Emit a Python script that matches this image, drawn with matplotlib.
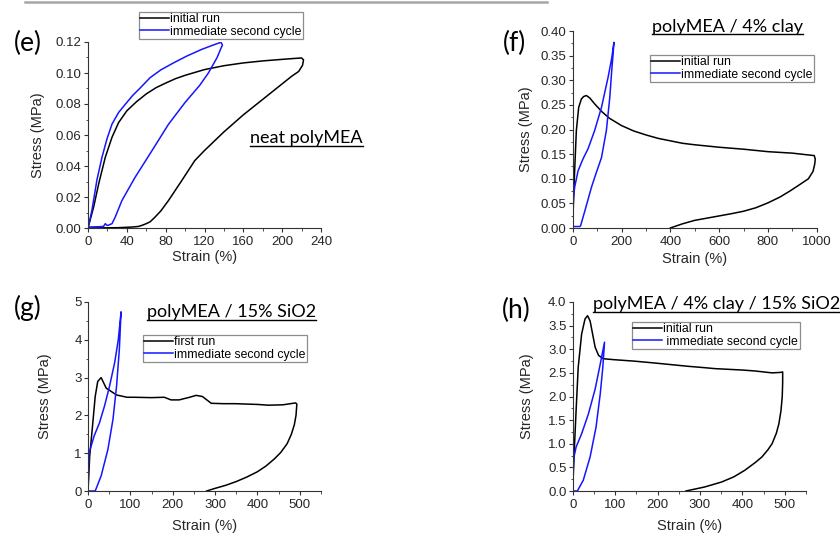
import matplotlib
matplotlib.use("Agg")
import matplotlib.pyplot as plt
from matplotlib.lines import Line2D
from matplotlib.ticker import MultipleLocator, FormatStrFormatter

plt.rcParams['font.family'] = ['Liberation Sans', 'DejaVu Sans']

# (e) neat polyMEA
e_first_strain = [0, 5.8, 11, 17.8, 24.7, 31.5, 40, 50, 60, 70, 80, 90, 100, 120, 140, 160, 180, 200,
                  215, 220, 222, 221, 217, 210, 200, 180, 160, 140, 120, 110, 97, 83, 75, 69, 64, 60,
                  56, 52, 45, 31, 15, 0]
e_first_stress = [0, 0.0135, 0.0285, 0.0456, 0.0585, 0.068, 0.0756, 0.0815, 0.0865, 0.0905, 0.0935,
                  0.0963, 0.0985, 0.1022, 0.1047, 0.1065, 0.1078, 0.1088, 0.1095, 0.1097, 0.1085,
                  0.105, 0.101, 0.098, 0.093, 0.083, 0.073, 0.062, 0.050, 0.0435, 0.031, 0.0178,
                  0.011, 0.007, 0.004, 0.0028, 0.0018, 0.001, 0.0006, 0.0002, 0.0001, 0]
e_second_strain = [0, 4, 9.2, 14.4, 19.5, 24.7, 31.5, 38, 46, 54, 64, 75, 88, 102, 117, 130, 137,
                   138.5, 137, 133, 124, 115, 100, 83, 66, 48.6, 35, 28, 24.7, 21, 19.5, 17.8, 16,
                   10, 0]
e_second_stress = [0, 0.0113, 0.031, 0.0456, 0.0574, 0.067, 0.0745, 0.0795, 0.0855, 0.0905, 0.097,
                   0.102, 0.1065, 0.111, 0.1152, 0.1183, 0.1198, 0.118, 0.116, 0.11, 0.1, 0.092,
                   0.081, 0.067, 0.05, 0.0328, 0.0178, 0.007, 0.0028, 0.0018, 0.0017, 0.0028,
                   0.001, 0.0008, 0.0006]

# (f) polyMEA / 4% clay
f_first_strain = [0, 3, 8, 15, 24.6, 35.6, 45, 56, 70, 90, 120, 150, 200, 250, 300, 350, 400, 450,
                  500, 600, 700, 800, 900, 990, 994, 992, 985, 966, 930, 890, 850, 800, 750, 700,
                  650, 600, 500, 450, 400]
f_first_stress = [0, 0.05, 0.117, 0.198, 0.245, 0.262, 0.267, 0.269, 0.264, 0.252, 0.236, 0.223,
                  0.208, 0.197, 0.189, 0.182, 0.177, 0.172, 0.169, 0.164, 0.160, 0.155, 0.152,
                  0.147, 0.14, 0.13, 0.115, 0.1, 0.088, 0.075, 0.063, 0.051, 0.041, 0.034, 0.029,
                  0.0245, 0.0155, 0.0085, 0]
f_second_strain = [0, 1, 3, 8, 22, 42, 63, 90, 118, 145, 160, 169, 165, 160, 152, 138, 118, 95, 77,
                   50, 32, 28, 0]
f_second_stress = [0, 0.03, 0.06, 0.083, 0.116, 0.14, 0.161, 0.198, 0.245, 0.306, 0.345, 0.377,
                   0.35, 0.32, 0.265, 0.198, 0.143, 0.11, 0.083, 0.035, 0.004, 0.003, 0.003]

# (g) polyMEA / 15% SiO2
g_first_strain = [0, 4, 10.6, 17, 23, 31, 43, 67.5, 92, 108, 150, 180, 196, 215, 240, 255, 270, 291,
                  320, 347, 400, 426, 460, 490, 493, 491, 487, 480, 470, 455, 440, 420, 400, 375,
                  350, 325, 300, 280]
g_first_stress = [0, 0.92, 1.71, 2.5, 2.9, 3.0, 2.72, 2.54, 2.48, 2.48, 2.47, 2.48, 2.41, 2.41, 2.48,
                  2.53, 2.5, 2.32, 2.31, 2.31, 2.29, 2.27, 2.28, 2.33, 2.3, 2.0, 1.75, 1.5, 1.25,
                  1.02, 0.85, 0.66, 0.51, 0.37, 0.25, 0.15, 0.07, 0]
g_second_strain = [0, 2.4, 14.6, 27, 39, 51, 63, 71.5, 78, 74, 67.5, 59, 47, 31, 17, 0]
g_second_stress = [0, 1.0, 1.46, 1.8, 2.25, 2.78, 3.4, 4.0, 4.74, 3.75, 2.78, 1.9, 1.1, 0.4, 0, 0]

# (h) polyMEA / 4% clay / 15% SiO2
h_first_strain = [0, 3, 8, 13, 21, 29, 35, 41, 47, 53, 61, 72, 96, 143, 192, 271, 311, 335, 400, 430,
                  470, 490, 495, 495, 494, 491, 486, 480, 470, 460, 446, 430, 406, 380, 351, 311,
                  267]
h_first_stress = [0, 0.72, 1.70, 2.62, 3.32, 3.64, 3.71, 3.6, 3.32, 3.04, 2.87, 2.80, 2.78, 2.75, 2.71,
                  2.64, 2.61, 2.59, 2.56, 2.54, 2.5, 2.51, 2.52, 2.3, 2.0, 1.7, 1.42, 1.22, 1.0,
                  0.87, 0.72, 0.6, 0.44, 0.3, 0.19, 0.085, 0]
h_second_strain = [0, 1, 3, 8, 21, 37, 53, 65, 75, 71, 65, 55, 41, 25, 11, 0]
h_second_stress = [0, 0.4, 0.72, 0.93, 1.21, 1.63, 2.16, 2.69, 3.15, 2.62, 2.06, 1.35, 0.72, 0.23, 0, 0]

W, H = 840, 533
fig = plt.figure(figsize=(8.4, 5.33), dpi=100)

axis_col = '#333333'
blue = '#1515ff'


def px_axes(x0, y0, x1, y1):
    # rectangle given in picture pixels (top-left origin)
    return fig.add_axes([x0 / W, 1 - y1 / H, (x1 - x0) / W, (y1 - y0) / H])


def style(ax, xlim, xmaj, xmin, ylim, ymaj, ymin, yfmt, xlab_y, ylab_x):
    ax.set_xlim(*xlim)
    ax.set_ylim(*ylim)
    ax.xaxis.set_major_locator(MultipleLocator(xmaj))
    ax.xaxis.set_minor_locator(MultipleLocator(xmin))
    ax.yaxis.set_major_locator(MultipleLocator(ymaj))
    ax.yaxis.set_minor_locator(MultipleLocator(ymin))
    ax.yaxis.set_major_formatter(FormatStrFormatter(yfmt))
    for s in ['top', 'right']:
        ax.spines[s].set_visible(False)
    for s in ['left', 'bottom']:
        ax.spines[s].set_color(axis_col)
        ax.spines[s].set_linewidth(0.8)
    ax.tick_params(which='major', direction='out', length=3, width=0.8, colors=axis_col,
                   labelsize=9.5, labelcolor='#262626')
    ax.tick_params(axis='y', which='major', pad=1.5)
    ax.tick_params(axis='x', which='major', pad=2.5)
    ax.tick_params(which='minor', direction='out', length=1.8, width=0.6, colors=axis_col)
    ax.set_xlabel('Strain (%)', fontsize=10.5, color='#262626')
    ax.set_ylabel('Stress (MPa)', fontsize=10.5, color='#262626')
    ax.xaxis.label.set_va('center')
    ax.yaxis.label.set_va('center')
    ax.xaxis.set_label_coords(0.5, xlab_y)
    ax.yaxis.set_label_coords(ylab_x, 0.5)
    ax.patch.set_alpha(0)


def legend(ax, labels, x, y):
    ax.legend(labels, loc='upper left', bbox_to_anchor=(x / W, 1 - y / H),
              bbox_transform=fig.transFigure, borderaxespad=0, fontsize=8.8,
              handlelength=2.3, handletextpad=0.15, labelspacing=0.02, borderpad=0.12,
              fancybox=False, framealpha=1, edgecolor='#8c8c8c')
    ax.get_legend().get_frame().set_linewidth(0.9)


# (e)
ax_e = px_axes(88, 42, 321, 228)
ax_e.plot(e_first_strain, e_first_stress, color='black', lw=1.1)
ax_e.plot(e_second_strain, e_second_stress, color=blue, lw=1.1)
style(ax_e, (0, 240), 40, 20, (0, 0.12), 0.02, 0.01, '%.2f', -0.157, -0.215)
legend(ax_e, ['initial run', 'immediate second cycle'], 139, 12)

# (f)
ax_f = px_axes(572.7, 31, 816.7, 228)
ax_f.plot(f_first_strain, f_first_stress, color='black', lw=1.1)
ax_f.plot(f_second_strain, f_second_stress, color=blue, lw=1.1)
style(ax_f, (0, 1000), 200, 100, (0, 0.40), 0.05, 0.025, '%.2f', -0.157, -0.191)
legend(ax_f, ['initial run', 'immediate second cycle'], 650, 55)

# (g)
ax_g = px_axes(88, 302, 321, 491)
ax_g.plot(g_first_strain, g_first_stress, color='black', lw=1.1)
ax_g.plot(g_second_strain, g_second_stress, color=blue, lw=1.1)
style(ax_g, (0, 550), 100, 50, (0, 5), 1, 0.5, '%d', -0.185, -0.185)
legend(ax_g, ['first run', 'immediate second cycle'], 143, 335)

# (h)
ax_h = px_axes(572.7, 302, 806, 491)
ax_h.plot(h_first_strain, h_first_stress, color='black', lw=1.1)
ax_h.plot(h_second_strain, h_second_stress, color=blue, lw=1.1)
style(ax_h, (0, 550), 100, 50, (0, 4), 0.5, 0.25, '%.1f', -0.185, -0.196)
legend(ax_h, ['initial run', ' immediate second cycle'], 632, 322)

# panel letters
for lab, (px, py) in {'(e)': (27.5, 43), '(f)': (514.5, 43), '(g)': (27.5, 308), '(h)': (516, 310)}.items():
    fig.text(px / W, 1 - py / H, lab, fontsize=19, family=['Lato', 'DejaVu Sans'],
             ha='center', va='center', color='black')

# underlined sample names
titles = [('neat polyMEA', 250, 143, 146), ('polyMEA / 4% clay', 652, 32.3, 34.5),
          ('polyMEA / 15% SiO2', 146.7, 317.5, 320), ('polyMEA / 4% clay / 15% SiO2', 593.3, 309, 311.5)]
title_texts = []
for txt, px, base, ul in titles:
    t = fig.text(px / W, 1 - base / H, txt, fontsize=13, family=['Lato', 'DejaVu Sans'],
                 ha='left', va='baseline', color='black')
    title_texts.append((t, ul))

fig.canvas.draw()
r = fig.canvas.get_renderer()
for t, ul in title_texts:
    bb = t.get_window_extent(r)
    fig.add_artist(Line2D([bb.x0 / W, bb.x1 / W], [1 - ul / H] * 2, transform=fig.transFigure,
                          color='black', lw=1.0))

# grey rule along the top edge
fig.add_artist(Line2D([25 / W, 547 / W], [1 - 1.5 / H] * 2, transform=fig.transFigure,
                      color='#a6a6a6', lw=1.8))

fig.savefig('out.png', dpi=100)
